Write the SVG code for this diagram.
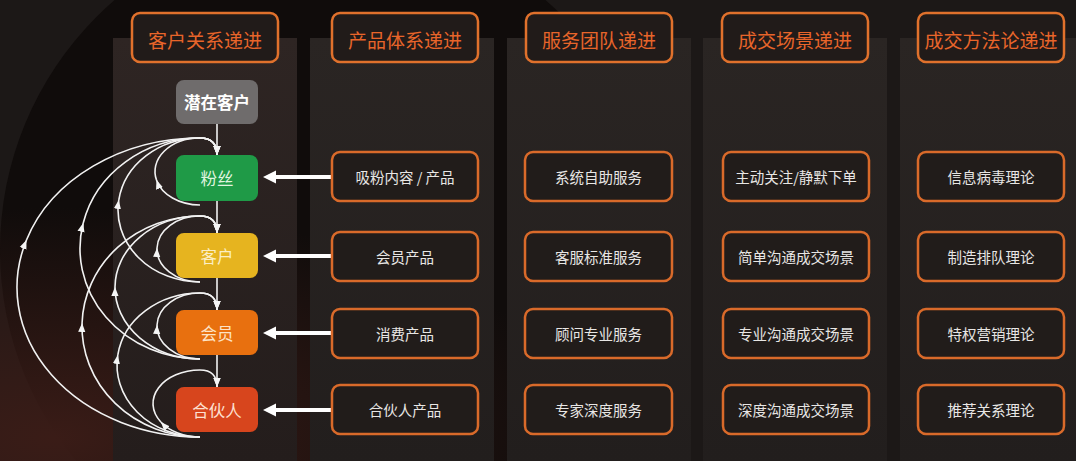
<svg xmlns="http://www.w3.org/2000/svg" width="1076" height="461" viewBox="0 0 1076 461">
<style>
.panel{fill:#27221f}
.hdr{fill:#211b19;stroke:#e0712c;stroke-width:2.5}
.hdrt{font-family:"Noto Sans CJK SC","Noto Sans",sans-serif;font-size:19px;fill:#e8652a;text-anchor:middle;dominant-baseline:central}
.box{fill:#211c1a;stroke:#d96a2a;stroke-width:2.5}
.boxt{font-family:"Noto Sans CJK SC","Noto Sans",sans-serif;font-size:14.5px;fill:#e8e6e4;text-anchor:middle;dominant-baseline:central}
.nodet{font-family:"Noto Sans CJK SC","Noto Sans",sans-serif;font-size:16.5px;text-anchor:middle;dominant-baseline:central}
.cv{fill:none;stroke:#f2f2f2;stroke-width:1.6}
.thick{stroke:#ffffff;stroke-width:4}
</style>
<defs>
<marker id="ah" viewBox="0 0 10 8" refX="10" refY="4" markerWidth="9" markerHeight="8" markerUnits="userSpaceOnUse" orient="auto">
<path d="M0,0 L10,4 L0,8 z" fill="#f5f5f5"/>
</marker>
<radialGradient id="bgGlow" cx="0.05" cy="0.95" r="0.5">
<stop offset="0" stop-color="#3a1c17"/>
<stop offset="1" stop-color="#3a1c17" stop-opacity="0"/>
</radialGradient>
<linearGradient id="pg" x1="0" y1="0" x2="0" y2="1">
<stop offset="0" stop-color="#2a2523"/>
<stop offset="1" stop-color="#221e1d"/>
</linearGradient>
<linearGradient id="pg1" x1="0" y1="0" x2="0" y2="1">
<stop offset="0" stop-color="#2e2523"/>
<stop offset="1" stop-color="#241d1c"/>
</linearGradient>
</defs>
<rect x="0" y="0" width="1076" height="461" fill="#1c1817"/>
<circle cx="330" cy="250" r="330" fill="#100c0b"/>
<rect x="0" y="0" width="1076" height="461" fill="url(#bgGlow)"/>
<g id="panels">
<rect x="113" y="38" width="184" height="423" fill="url(#pg1)"/>
<rect x="310" y="38" width="184" height="423" fill="url(#pg)"/>
<rect x="507" y="38" width="184" height="423" fill="url(#pg)"/>
<rect x="703" y="38" width="184" height="423" fill="url(#pg)"/>
<rect x="900" y="38" width="184" height="423" fill="url(#pg)"/>
</g>
<g id="headers">
<g id="h1"><rect class="hdr" x="132" y="13" width="146" height="49" rx="8"/><text class="hdrt" x="205" y="39">客户关系递进</text></g>
<g id="h2"><rect class="hdr" x="332" y="13" width="146" height="49" rx="8"/><text class="hdrt" x="405" y="39">产品体系递进</text></g>
<g id="h3"><rect class="hdr" x="526" y="13" width="146" height="49" rx="8"/><text class="hdrt" x="599" y="39">服务团队递进</text></g>
<g id="h4"><rect class="hdr" x="722" y="13" width="146" height="49" rx="8"/><text class="hdrt" x="795" y="39">成交场景递进</text></g>
<g id="h5"><rect class="hdr" x="918" y="13" width="146" height="49" rx="8"/><text class="hdrt" x="991" y="39">成交方法论递进</text></g>
</g>
<g id="connectors">
<line class="cv" x1="217" y1="124" x2="217" y2="155" marker-end="url(#ah)"/>
<line class="cv" x1="217" y1="201" x2="217" y2="233" marker-end="url(#ah)"/>
<line class="cv" x1="217" y1="278" x2="217" y2="310" marker-end="url(#ah)"/>
<line class="cv" x1="217" y1="355" x2="217" y2="387" marker-end="url(#ah)"/>
<path class="cv" d="M200,205 A45,33.5 0 0 1 156.47,180" marker-end="url(#ah)"/>
<path class="cv" d="M156.47,180 A45,33.5 0 0 1 200,138 C211,138 217,144 217,155" marker-end="url(#ah)"/>
<path class="cv" d="M200,282 A82,72 0 0 1 118.8,200" marker-end="url(#ah)"/>
<path class="cv" d="M118.8,200 A82,72 0 0 1 200,138 C211,138 217,144 217,155" marker-end="url(#ah)"/>
<path class="cv" d="M200,359 A120,110.5 0 0 1 83.24,223" marker-end="url(#ah)"/>
<path class="cv" d="M83.24,223 A120,110.5 0 0 1 200,138 C211,138 217,144 217,155" marker-end="url(#ah)"/>
<path class="cv" d="M200,437 A183,149.5 0 0 1 26.48,240" marker-end="url(#ah)"/>
<path class="cv" d="M26.48,240 A183,149.5 0 0 1 200,138 C211,138 217,144 217,155" marker-end="url(#ah)"/>
<path class="cv" d="M200,282 A43,33 0 0 1 157.02,248" marker-end="url(#ah)"/>
<path class="cv" d="M157.02,248 A43,33 0 0 1 200,216 C211,216 217,222 217,233" marker-end="url(#ah)"/>
<path class="cv" d="M200,359 A85,71.5 0 0 1 115,287" marker-end="url(#ah)"/>
<path class="cv" d="M115,287 A85,71.5 0 0 1 200,216 C211,216 217,222 217,233" marker-end="url(#ah)"/>
<path class="cv" d="M200,437 A118,110.5 0 0 1 82.06,323" marker-end="url(#ah)"/>
<path class="cv" d="M82.06,323 A118,110.5 0 0 1 200,216 C211,216 217,222 217,233" marker-end="url(#ah)"/>
<path class="cv" d="M200,359 A43,33 0 0 1 157.02,325" marker-end="url(#ah)"/>
<path class="cv" d="M157.02,325 A43,33 0 0 1 200,293 C211,293 217,299 217,310" marker-end="url(#ah)"/>
<path class="cv" d="M200,437 A83,72 0 0 1 117.81,355" marker-end="url(#ah)"/>
<path class="cv" d="M117.81,355 A83,72 0 0 1 200,293 C211,293 217,299 217,310" marker-end="url(#ah)"/>
<path class="cv" d="M200,437 A47,33.5 0 0 1 160.82,422" marker-end="url(#ah)"/>
<path class="cv" d="M160.82,422 A47,33.5 0 0 1 200,370 C211,370 217,376 217,387" marker-end="url(#ah)"/>
<line class="thick" x1="332" y1="177" x2="274" y2="177"/><polygon points="263,177 276,170.5 276,183.5" fill="#fff"/>
<line class="thick" x1="332" y1="256" x2="274" y2="256"/><polygon points="263,256 276,249.5 276,262.5" fill="#fff"/>
<line class="thick" x1="332" y1="333" x2="274" y2="333"/><polygon points="263,333 276,326.5 276,339.5" fill="#fff"/>
<line class="thick" x1="332" y1="410" x2="274" y2="410"/><polygon points="263,410 276,403.5 276,416.5" fill="#fff"/>
</g>
<g id="n-potential"><rect x="176" y="80" width="82" height="44" rx="8" fill="#6f6c6c"/><text class="nodet" x="217" y="102" fill="#ffffff" font-weight="bold">潜在客户</text></g>
<g id="n-fans"><rect x="176" y="155" width="82" height="46" rx="8" fill="#1f9a47"/><text class="nodet" x="217" y="178" fill="#dff3df">粉丝</text></g>
<g id="n-customer"><rect x="176" y="233" width="82" height="45" rx="8" fill="#e6b41f"/><text class="nodet" x="217" y="255.5" fill="#fbeec4">客户</text></g>
<g id="n-member"><rect x="176" y="310" width="82" height="45" rx="8" fill="#e8700f"/><text class="nodet" x="217" y="332.5" fill="#fde3c6">会员</text></g>
<g id="n-partner"><rect x="176" y="387" width="82" height="45" rx="8" fill="#d7451d"/><text class="nodet" x="217" y="409.5" fill="#fde0d2">合伙人</text></g>
<g id="col2">
<g id="p1"><rect class="box" x="332" y="152" width="146" height="49" rx="8"/><text class="boxt" x="405" y="176.5">吸粉内容 / 产品</text></g>
<g id="p2"><rect class="box" x="332" y="232" width="146" height="49" rx="8"/><text class="boxt" x="405" y="256.5">会员产品</text></g>
<g id="p3"><rect class="box" x="332" y="309" width="146" height="49" rx="8"/><text class="boxt" x="405" y="333.5">消费产品</text></g>
<g id="p4"><rect class="box" x="332" y="385" width="146" height="49" rx="8"/><text class="boxt" x="405" y="409.5">合伙人产品</text></g>
</g>
<g id="col3">
<g id="s1"><rect class="box" x="525" y="152" width="147" height="49" rx="8"/><text class="boxt" x="598.5" y="176.5">系统自助服务</text></g>
<g id="s2"><rect class="box" x="525" y="232" width="147" height="49" rx="8"/><text class="boxt" x="598.5" y="256.5">客服标准服务</text></g>
<g id="s3"><rect class="box" x="525" y="309" width="147" height="49" rx="8"/><text class="boxt" x="598.5" y="333.5">顾问专业服务</text></g>
<g id="s4"><rect class="box" x="525" y="385" width="147" height="49" rx="8"/><text class="boxt" x="598.5" y="409.5">专家深度服务</text></g>
</g>
<g id="col4">
<g id="c1"><rect class="box" x="723" y="152" width="146" height="49" rx="8"/><text class="boxt" x="796" y="176.5">主动关注/静默下单</text></g>
<g id="c2"><rect class="box" x="723" y="232" width="146" height="49" rx="8"/><text class="boxt" x="796" y="256.5">简单沟通成交场景</text></g>
<g id="c3"><rect class="box" x="723" y="309" width="146" height="49" rx="8"/><text class="boxt" x="796" y="333.5">专业沟通成交场景</text></g>
<g id="c4"><rect class="box" x="723" y="385" width="146" height="49" rx="8"/><text class="boxt" x="796" y="409.5">深度沟通成交场景</text></g>
</g>
<g id="col5">
<g id="m1"><rect class="box" x="918" y="152" width="146" height="49" rx="8"/><text class="boxt" x="991" y="176.5">信息病毒理论</text></g>
<g id="m2"><rect class="box" x="918" y="232" width="146" height="49" rx="8"/><text class="boxt" x="991" y="256.5">制造排队理论</text></g>
<g id="m3"><rect class="box" x="918" y="309" width="146" height="49" rx="8"/><text class="boxt" x="991" y="333.5">特权营销理论</text></g>
<g id="m4"><rect class="box" x="918" y="385" width="146" height="49" rx="8"/><text class="boxt" x="991" y="409.5">推荐关系理论</text></g>
</g>
</svg>
